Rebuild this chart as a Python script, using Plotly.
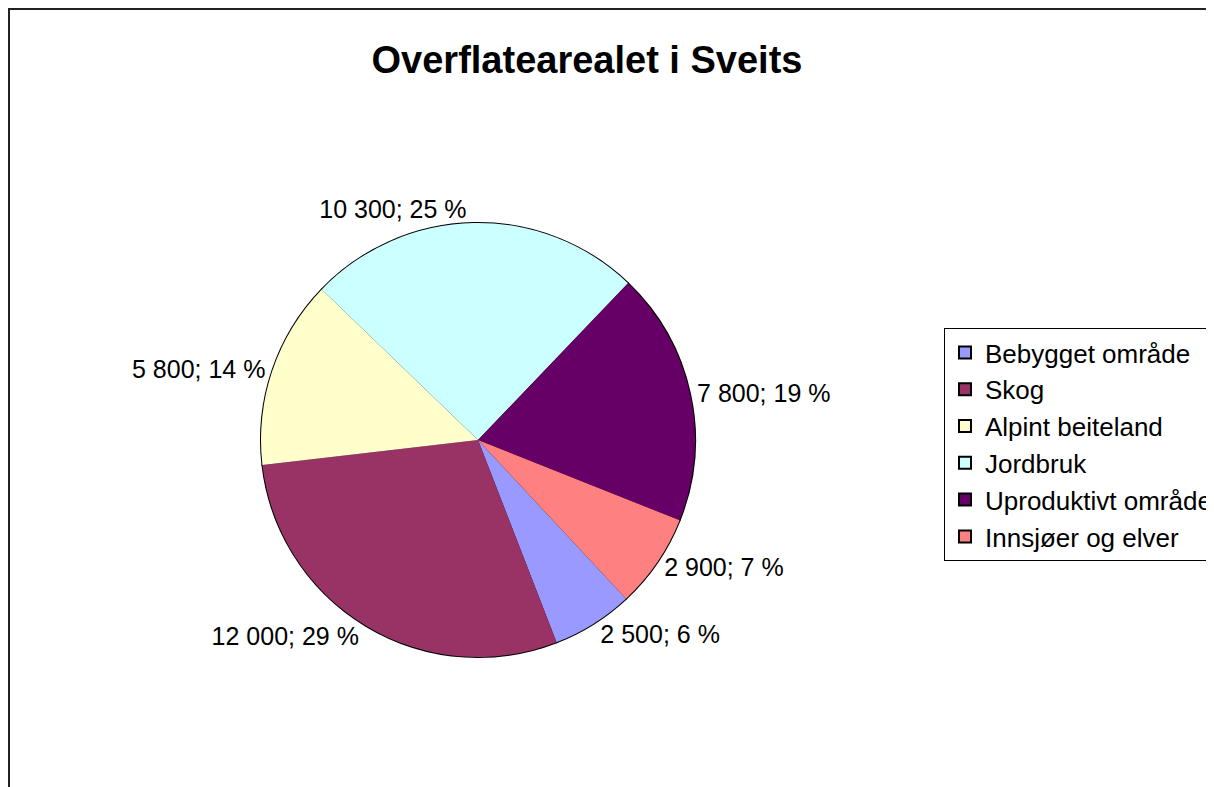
import plotly.graph_objects as go

# ---- data ----
categories = ["Bebygget område", "Skog", "Alpint beiteland", "Jordbruk",
              "Uproduktivt område", "Innsjøer og elver"]
areas_km2 = [2500, 12000, 5800, 10300, 7800, 2900]
colors = ["#9999FF", "#993366", "#FFFFCC", "#CCFFFF", "#660066", "#FF8080"]

total = sum(areas_km2)
pct = [round(v / total * 100) for v in areas_km2]

W, H = 1214, 787
OFF = 8                              # page offset of the plot div
cx, cy, r = 478 - OFF, 440 - OFF, 217  # pie centre / radius in px
dom_x = [(cx - r) / W, (cx + r) / W]
dom_y = [1 - (cy + r) / H, 1 - (cy - r) / H]

font_fam = "Arial, Liberation Sans, sans-serif"

fig = go.Figure()

# bottom pie: black outline (outer edge + legend squares), labels outside
fig.add_trace(go.Pie(
    labels=categories, values=areas_km2, customdata=pct,
    sort=False, direction="clockwise", rotation=137,
    marker=dict(colors=colors, line=dict(color="black", width=2)),
    texttemplate="%{value:,}; %{customdata} %",
    textposition="outside",
    textfont=dict(family=font_fam, size=25, color="black"),
    domain=dict(x=dom_x, y=dom_y),
    showlegend=True,
))
# top pie: fills only, hides internal radial lines
fig.add_trace(go.Pie(
    labels=categories, values=areas_km2,
    sort=False, direction="clockwise", rotation=137,
    marker=dict(colors=colors, line=dict(width=0)),
    textinfo="none", hoverinfo="skip",
    domain=dict(x=dom_x, y=dom_y),
    showlegend=False,
))

fig.update_layout(
    width=W, height=H,
    margin=dict(l=0, r=0, t=0, b=0),
    paper_bgcolor="white",
    separators=", ",
    font=dict(family=font_fam, color="black"),
    title=dict(text="<b>Overflatearealet i Sveits</b>",
               x=(587 - OFF) / W, xanchor="center",
               y=1 - (60 - OFF) / H, yanchor="middle",
               font=dict(size=38, family=font_fam, color="black")),
    legend=dict(x=(944 - OFF) / W, xanchor="left", y=1 - (328 - OFF) / H, yanchor="top",
                bordercolor="black", borderwidth=1, bgcolor="white",
                font=dict(size=26, family=font_fam, color="black"),
                traceorder="normal"),
    shapes=[dict(type="rect", xref="paper", yref="paper",
                 x0=1 / W, x1=1.05, y0=-0.05, y1=1 - 1 / H,
                 line=dict(color="#222222", width=2))],
)

fig.write_html("out.html")
